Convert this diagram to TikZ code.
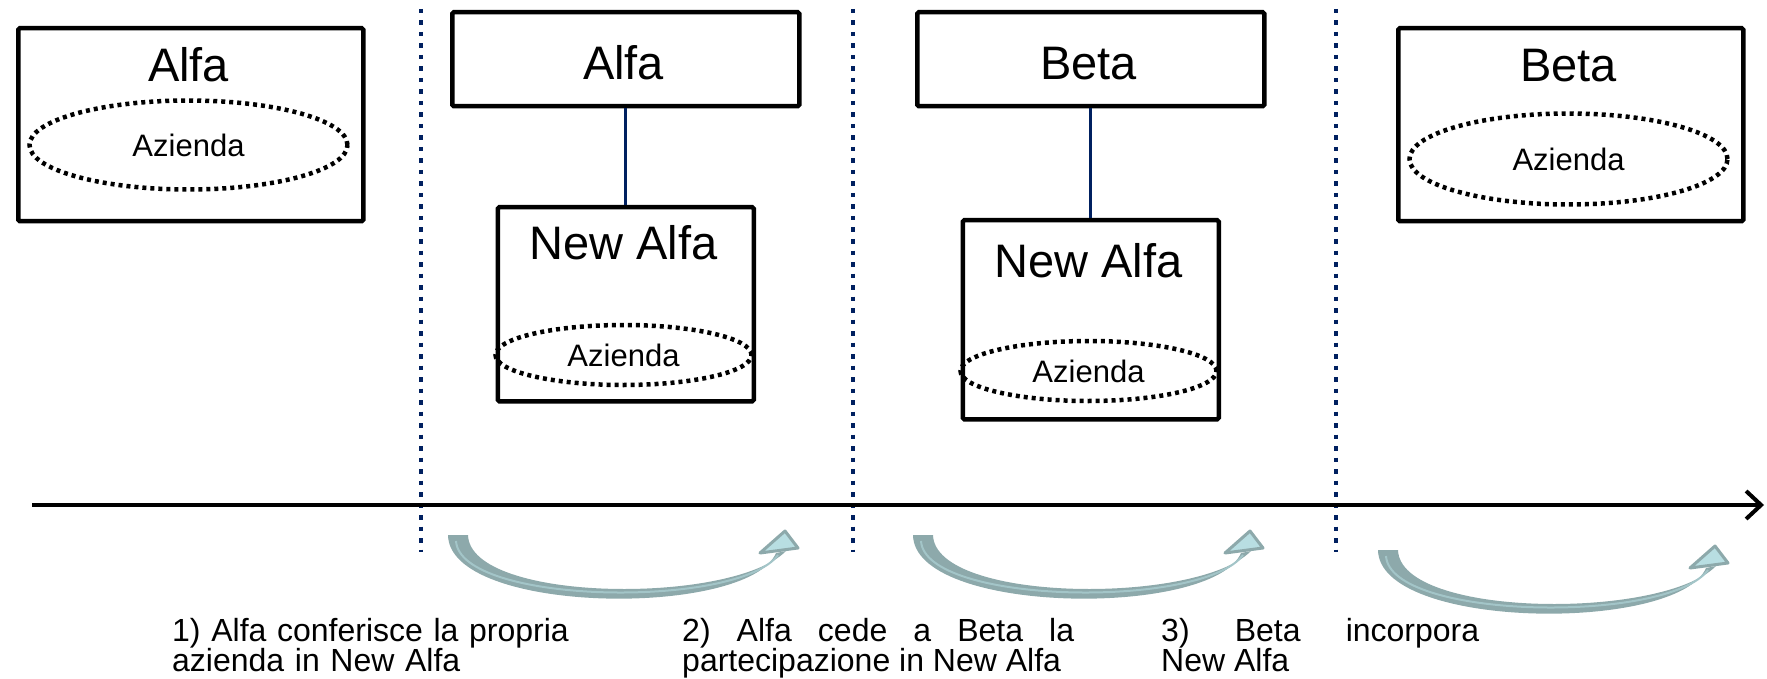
\documentclass[tikz,border=0pt]{standalone}
\usepackage{fontspec}
\setmainfont{Liberation Sans}
\usetikzlibrary{shapes.geometric,arrows.meta}
\definecolor{navy}{HTML}{002060}
\definecolor{arrowdark}{HTML}{8DA9AB}
\definecolor{arrowlight}{HTML}{B8DEE2}
\definecolor{arrowmid}{HTML}{A3C5C8}
\tikzset{
  box/.style={draw=black, line width=4.5pt, rounded corners=1.5pt, anchor=north west, inner sep=0},
  title/.style={font=\fontsize{47}{56}\selectfont, anchor=base, inner sep=0},
  azienda/.style={ellipse, draw=black, line width=4.5pt, dash pattern=on 4pt off 4pt,
                  inner sep=0, font=\fontsize{31}{36}\selectfont},
  sepline/.style={draw=navy, line width=4.5pt, dash pattern=on 4.5pt off 7pt},
  link/.style={draw=navy, line width=3pt},
  caption/.style={font=\fontsize{32}{28.5}\selectfont, anchor=base west, inner sep=0},
  pics/curvedarrow/.style={code={
    \fill[arrowdark] (0,2) .. controls (1,82) and (300,85) .. (328,20)
          -- (338,18) .. controls (285,72) and (22,70) .. (20,2) -- cycle;
    \draw[arrowmid, line width=2pt] (8,8) .. controls (12,72) and (290,76) .. (330,22);
    \draw[arrowdark, fill=arrowlight, line width=3pt, line join=round]
          (337,-2) -- (350,15) -- (312,20) -- cycle;
  }}
}
\begin{document}
\begin{tikzpicture}[x=1pt, y=-1pt]
\useasboundingbox (0,0) rectangle (1767,679);

% separators
\coordinate (s1a) at (421,9);  \coordinate (s1b) at (421,552);
\coordinate (s2a) at (853,9);  \coordinate (s2b) at (853,552);
\coordinate (s3a) at (1336,9); \coordinate (s3b) at (1336,552);
\draw[sepline] (s1a) -- (s1b);
\draw[sepline] (s2a) -- (s2b);
\draw[sepline] (s3a) -- (s3b);

% stage 1
\node[box, minimum width=345pt, minimum height=193pt] (b1) at (16,26) {};
\node[title] (t1) at (188.5,82) {Alfa};
\node[azienda, minimum width=318pt, minimum height=89pt] (e1) at (188.5,145) {Azienda};

% stage 2
\node[box, minimum width=347pt, minimum height=94pt] (b2) at (450,10) {};
\node[title] (t2) at (623.5,80) {Alfa};
\node[box, minimum width=256pt, minimum height=194pt] (n1) at (495.5,205) {};
\node[title] (t3) at (623.5,259) {New Alfa};
\node[azienda, minimum width=256pt, minimum height=60pt] (e2) at (623.5,355) {Azienda};
\draw[link] (b2.south) -- (n1.north);

% stage 3
\node[box, minimum width=347pt, minimum height=94pt] (b3) at (915,10) {};
\node[title] (t4) at (1088.5,80) {Beta};
\node[box, minimum width=256pt, minimum height=199pt] (n2) at (960.5,218) {};
\node[title] (t5) at (1088.5,277) {New Alfa};
\node[azienda, minimum width=256pt, minimum height=60pt] (e3) at (1088.5,371) {Azienda};
\draw[link] (b3.south) -- (n2.north);

% stage 4
\node[box, minimum width=345pt, minimum height=193pt] (b4) at (1396,26) {};
\node[title] (t6) at (1568.5,82) {Beta};
\node[azienda, minimum width=318pt, minimum height=91pt] (e4) at (1568.5,159) {Azienda};

% timeline
\coordinate (tl0) at (32,505);
\coordinate (tl1) at (1764,505);
\draw[line width=3.5pt, -{Straight Barb[length=15pt,width=28pt,line width=4pt]}] (tl0) -- (tl1);

% curved arrows
\pic at (448,533) {curvedarrow};
\pic at (913,533) {curvedarrow};
\pic at (1378,548) {curvedarrow};

% captions
\node[caption, text width=420pt, align=left] (c1) at (172,641)
  {1) Alfa conferisce la propria\\azienda in New Alfa};
\node[caption, text width=392pt, align=justify] (c2) at (682,641)
  {2) Alfa cede a Beta la\linebreak partecipazione in New Alfa};
\node[caption, text width=318pt, align=justify] (c3) at (1161,641)
  {3) Beta incorpora\linebreak New Alfa};
\end{tikzpicture}
\end{document}
